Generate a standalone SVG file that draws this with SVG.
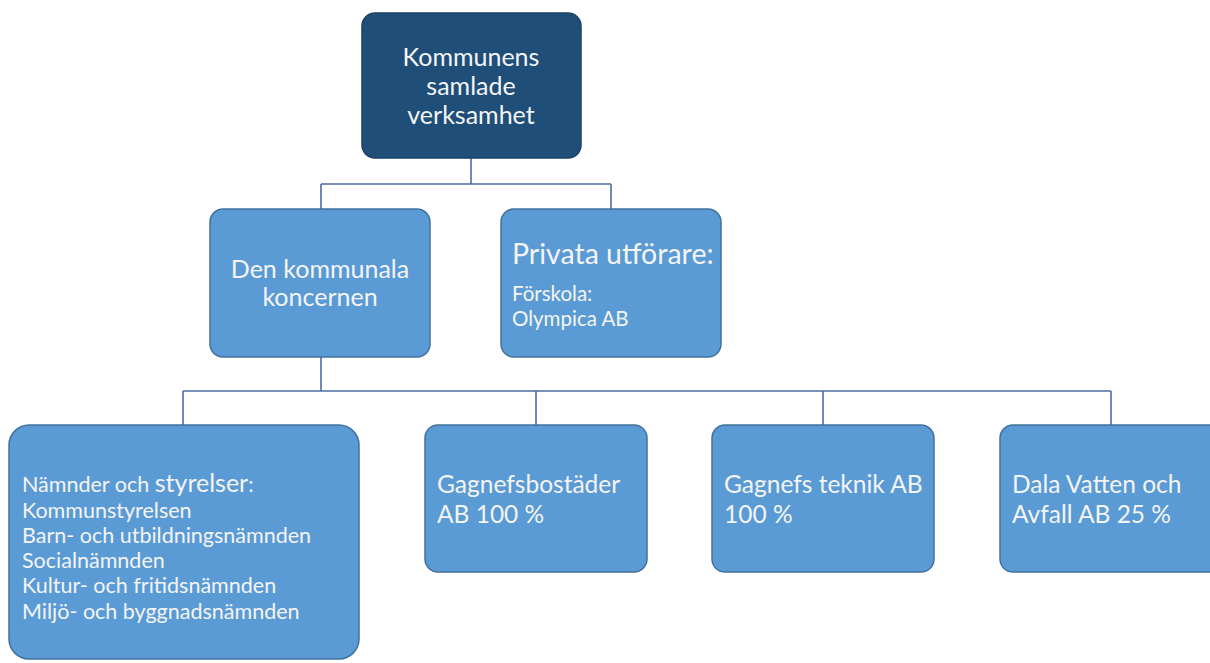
<svg xmlns="http://www.w3.org/2000/svg" width="1210" height="663" viewBox="0 0 1210 663">
<style>
.box{fill:#5b9bd5;stroke:#41719c;stroke-width:1.5}
.top{fill:#1f4e79;stroke:#1a4166;stroke-width:1.5}
.t{font-family:Lato,"Open Sans",sans-serif;fill:#f4f4f4}
.c{stroke:#4a6fa5;stroke-width:1.6;fill:none}
</style>
<rect width="1210" height="663" fill="#ffffff"/>
<g id="connectors">
<path class="c" d="M471 158V184M321 184H611M321 184V209M611 184V209"/>
<path class="c" d="M321 357V391M183 391H1111M183 391V425M536 391V425M823 391V425M1111 391V425"/>
</g>
<g id="n-top">
<rect class="top" x="362" y="13" width="219" height="145" rx="13"/>
<text class="t" text-anchor="middle" font-size="25"><tspan x="471" y="66">Kommunens</tspan><tspan x="471" y="95">samlade</tspan><tspan x="471" y="124">verksamhet</tspan></text>
</g>
<g id="n-koncern">
<rect class="box" x="210" y="209" width="220" height="148" rx="13"/>
<text class="t" text-anchor="middle" font-size="25"><tspan x="320" y="278">Den kommunala</tspan><tspan x="320" y="306">koncernen</tspan></text>
</g>
<g id="n-privata">
<rect class="box" x="501" y="209" width="220" height="148" rx="13"/>
<text class="t" font-size="28.5"><tspan x="512" y="264">Privata utförare:</tspan></text>
<text class="t" font-size="20.5"><tspan x="512" y="301">Förskola:</tspan><tspan x="512" y="326">Olympica AB</tspan></text>
</g>
<g id="n-namnder">
<rect class="box" x="9" y="425" width="350" height="234" rx="20"/>
<text class="t" font-size="21.5"><tspan x="22" y="492">Nämnder och <tspan font-size="25">styrelser</tspan>:</tspan><tspan x="22" y="518">Kommunstyrelsen</tspan><tspan x="22" y="543">Barn- och utbildningsnämnden</tspan><tspan x="22" y="568">Socialnämnden</tspan><tspan x="22" y="593">Kultur- och fritidsnämnden</tspan><tspan x="22" y="619">Miljö- och byggnadsnämnden</tspan></text>
</g>
<g id="n-bostader">
<rect class="box" x="425" y="425" width="222" height="147" rx="13"/>
<text class="t" font-size="24.5"><tspan x="437" y="493">Gagnefsbostäder</tspan><tspan x="437" y="523">AB 100 %</tspan></text>
</g>
<g id="n-teknik">
<rect class="box" x="712" y="425" width="222" height="147" rx="13"/>
<text class="t" font-size="24.5"><tspan x="724" y="493">Gagnefs teknik AB</tspan><tspan x="724" y="523">100 %</tspan></text>
</g>
<g id="n-dala">
<rect class="box" x="1000" y="425" width="222" height="147" rx="13"/>
<text class="t" font-size="24.5"><tspan x="1012" y="493">Dala Vatten och</tspan><tspan x="1012" y="523">Avfall AB 25 %</tspan></text>
</g>
</svg>
